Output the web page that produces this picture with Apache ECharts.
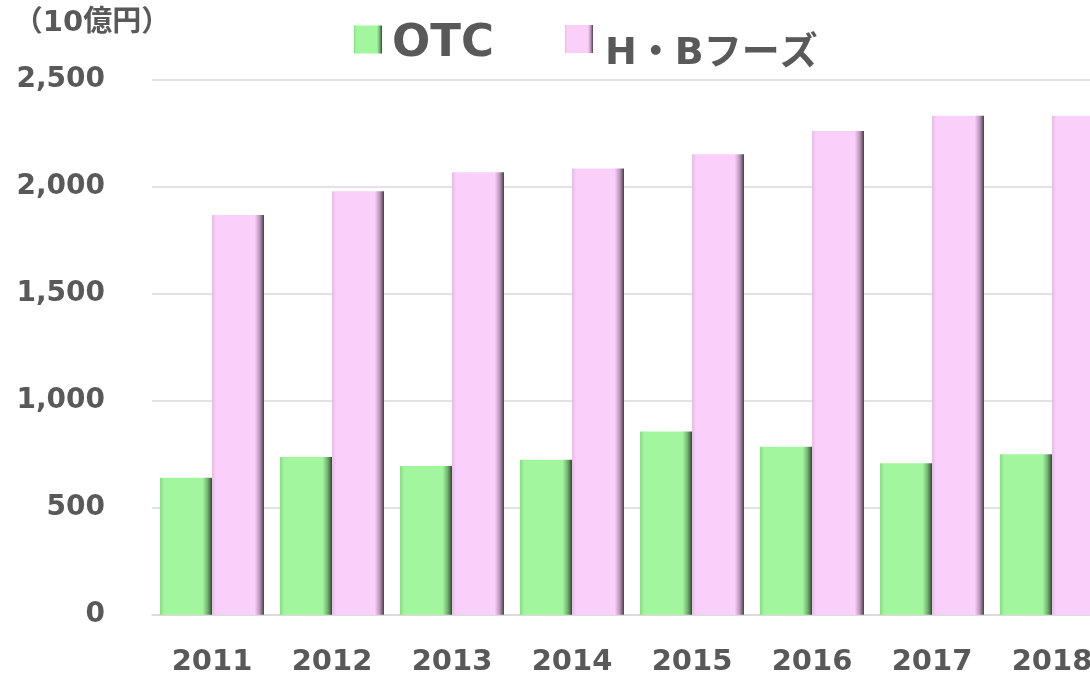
<!DOCTYPE html>
<html>
<head>
<meta charset="utf-8">
<script src="https://cdn.jsdelivr.net/npm/echarts@6/dist/echarts.min.js"></script>
<style>
html,body{margin:0;padding:0;background:#fff;}
#c{width:1090px;height:676px;}
</style>
</head>
<body>
<div id="c"></div>
<script>
const years = ['2011','2012','2013','2014','2015','2016','2017','2018'];
const otc = [640, 736, 694, 724, 856, 784, 707, 749];
const hbFoods = [1866, 1977, 2066, 2084, 2150, 2259, 2330, 2330];
const yTicks = [0, 500, 1000, 1500, 2000, 2500];
const unitLabel = '（10億円）';
const seriesNames = ['OTC', 'H・Bフーズ'];

const FONT = '"DejaVu Sans", "Noto Sans CJK JP", sans-serif';
const TXT = '#595959';

function barGrad(edgeL, main, edgeR) {
  return new echarts.graphic.LinearGradient(0, 0, 1, 0, [
    {offset: 0, color: edgeL},
    {offset: 0.08, color: main},
    {offset: 0.82, color: main},
    {offset: 0.92, color: edgeR[0]},
    {offset: 1, color: edgeR[1]}
  ]);
}
const greenFill = barGrad('#86dc83', '#a2f79e', ['#6fae6c', '#2f4a2e']);
const pinkFill = barGrad('#e6bde6', '#facffa', ['#b894b8', '#4a3c4a']);

const chart = echarts.init(document.getElementById('c'), null, {renderer: 'canvas'});
chart.setOption({
  animation: false,
  backgroundColor: '#ffffff',
  grid: {left: 152, top: 79.3, width: 960, height: 535.4, containLabel: false, outerBoundsMode: 'none'},
  legend: [
    {
      data: [seriesNames[0]],
      left: 354, top: 12, padding: 0,
      itemWidth: 28, itemHeight: 28,
      icon: 'rect',
      formatter: n => '{a|' + n + '}',
      textStyle: {
        fontFamily: FONT, fontWeight: 'bold', fontSize: 45, color: TXT,
        rich: {a: {fontFamily: FONT, fontWeight: 'bold', fontSize: 45, lineHeight: 44, color: TXT, padding: [10, 0, 0, 5]}}
      }
    },
    {
      data: [seriesNames[1]],
      left: 565, top: 5, padding: 0,
      itemWidth: 28, itemHeight: 28,
      icon: 'rect',
      formatter: n => '{b|' + n + '}',
      textStyle: {
        fontFamily: FONT, fontWeight: 'bold', fontSize: 38, color: TXT,
        rich: {b: {fontFamily: FONT, fontWeight: 'bold', fontSize: 38, lineHeight: 44, color: TXT, padding: [30, 0, 0, 7]}}
      }
    }
  ],
  xAxis: {
    type: 'category',
    data: years,
    axisLine: {show: true, lineStyle: {color: '#d9d9d9', width: 1.5}},
    axisTick: {show: false},
    axisLabel: {fontFamily: FONT, fontWeight: 'bold', fontSize: 29, color: TXT, margin: 33}
  },
  yAxis: {
    type: 'value',
    min: 0, max: 2500, interval: 500,
    name: unitLabel,
    nameLocation: 'end',
    nameGap: 41,
    nameTextStyle: {fontFamily: FONT, fontWeight: 'bold', fontSize: 29, color: TXT, align: 'center', padding: [0, 120, 0, 0]},
    axisLine: {show: false},
    axisTick: {show: false},
    splitLine: {show: true, lineStyle: {color: '#d9d9d9', width: 1.5}},
    axisLabel: {
      fontFamily: FONT, fontWeight: 'bold', fontSize: 28, color: TXT, margin: 47,
      formatter: v => yTicks.includes(v) ? v.toLocaleString('en-US') : ''
    }
  },
  series: [
    {
      name: seriesNames[0], type: 'bar', data: otc,
      barWidth: 52, barGap: '0%',
      itemStyle: {color: greenFill}
    },
    {
      name: seriesNames[1], type: 'bar', data: hbFoods,
      barWidth: 52, barGap: '0%',
      itemStyle: {color: pinkFill}
    }
  ]
});
</script>
</body>
</html>
